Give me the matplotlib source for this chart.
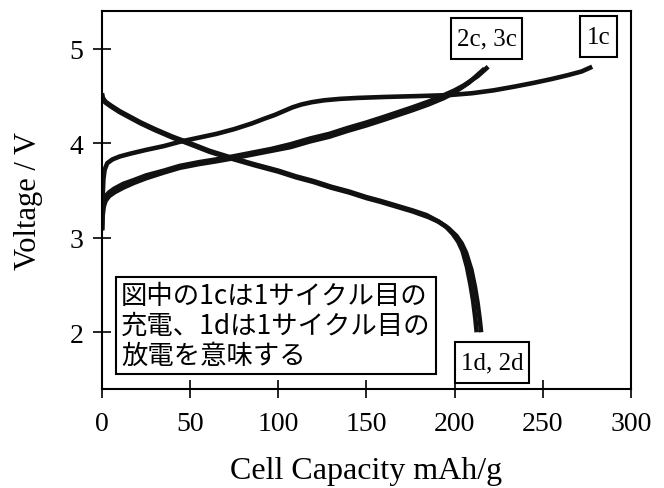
import matplotlib
matplotlib.use("Agg")
import matplotlib.pyplot as plt
from matplotlib.patches import Rectangle

# charge curves (capacity mAh/g, voltage V)
cap_1c = [0, 0.3, 0.8, 1.5, 3, 6, 10, 16, 25, 35, 45, 55, 65, 75, 85, 92, 98, 103, 108, 113, 119,
          126, 135, 145, 160, 180, 197, 210, 222, 234, 245, 255, 264, 272, 278]
v_1c = [3.08, 3.40, 3.62, 3.72, 3.79, 3.83, 3.86, 3.89, 3.93, 3.97, 4.02, 4.06, 4.10, 4.15, 4.21, 4.26,
        4.30, 4.34, 4.38, 4.41, 4.435, 4.455, 4.47, 4.48, 4.49, 4.50, 4.51, 4.53, 4.56, 4.60, 4.64,
        4.68, 4.72, 4.76, 4.81]

cap_2c = [0, 0.3, 1, 2, 4, 7, 12, 18, 25, 35, 44, 55, 65, 74, 85, 96, 107, 118, 129, 139, 150, 160,
          168, 176, 185, 194, 200, 205, 209, 213, 216, 219]
v_2c = [3.08, 3.28, 3.39, 3.44, 3.48, 3.52, 3.57, 3.61, 3.66, 3.71, 3.76, 3.80, 3.83, 3.86, 3.90, 3.94,
        3.99, 4.05, 4.10, 4.16, 4.22, 4.28, 4.33, 4.38, 4.44, 4.51, 4.56, 4.61, 4.66, 4.71, 4.76, 4.81]

cap_3c = [0, 0.3, 1, 2, 4, 7, 12, 18, 25, 35, 44, 55, 65, 74, 85, 96, 107, 118, 129, 139, 150, 160,
          168, 176, 185, 194, 199, 204, 208, 211, 214, 217]
v_3c = [3.08, 3.22, 3.33, 3.39, 3.44, 3.48, 3.53, 3.58, 3.63, 3.69, 3.74, 3.78, 3.81, 3.84, 3.88, 3.92,
        3.96, 4.02, 4.07, 4.13, 4.19, 4.25, 4.30, 4.35, 4.41, 4.48, 4.53, 4.59, 4.64, 4.69, 4.74, 4.79]

# discharge curves
cap_1d = [0, 0.5, 2, 5, 10, 15, 22, 30, 40, 50, 61, 73, 86, 100, 110, 120, 130, 140, 150, 158, 167,
          176, 184, 190, 195, 199, 202, 204.5, 207, 209, 210.5, 211.7, 212.5]
v_1d = [4.53, 4.48, 4.44, 4.40, 4.34, 4.29, 4.22, 4.15, 4.07, 4.00, 3.92, 3.85, 3.78, 3.71, 3.65, 3.60,
        3.54, 3.49, 3.43, 3.39, 3.34, 3.29, 3.24, 3.18, 3.12, 3.04, 2.96, 2.86, 2.69, 2.50, 2.33, 2.15, 2.00]

cap_2d = [0, 0.5, 2, 5, 10, 15, 22, 30, 40, 50, 61, 73, 86, 100, 110, 120, 130, 140, 150, 158, 167,
          176, 185, 191, 196.5, 201, 204, 206.5, 209.5, 211.5, 213, 214.2, 215]
v_2d = [4.50, 4.46, 4.43, 4.39, 4.33, 4.28, 4.21, 4.14, 4.06, 3.99, 3.91, 3.84, 3.77, 3.70, 3.64, 3.59,
        3.53, 3.48, 3.42, 3.38, 3.33, 3.28, 3.22, 3.17, 3.10, 3.02, 2.94, 2.84, 2.66, 2.48, 2.31, 2.14, 2.00]

x_ticks = [0, 50, 100, 150, 200, 250, 300]
y_ticks = [2, 3, 4, 5]

serif = "Liberation Serif"
jp = ["Noto Sans CJK JP", "DejaVu Sans"]

fig = plt.figure(figsize=(6.64, 4.89), dpi=100)
ax = fig.add_axes([0.1536, 0.2025, 0.7967, 0.773])

lc = "#111111"
for c, v in [(cap_1c, v_1c), (cap_2c, v_2c), (cap_3c, v_3c), (cap_1d, v_1d), (cap_2d, v_2d)]:
    ax.plot(c, v, color=lc, lw=3.3, solid_capstyle="butt", solid_joinstyle="round")

ax.set_xlim(0, 300)
ax.set_ylim(1.4, 5.4)
ax.set_xticks(x_ticks)
ax.set_yticks(y_ticks)
ax.tick_params(direction="inout", length=13, width=1.2, labelsize=20)
ax.tick_params(axis="x", pad=9)
ax.tick_params(axis="y", pad=7)
for lab in ax.get_xticklabels() + ax.get_yticklabels():
    lab.set_fontfamily(serif)
for s in ax.spines.values():
    s.set_linewidth(1.5)

ax.set_xlabel("Cell Capacity mAh/g", fontsize=23, family=serif, labelpad=15)
ax.set_ylabel("Voltage / V", fontsize=22, family=serif, labelpad=19)

# curve labels in boxes
labels = [("2c, 3c", 0.660, 0.873, 0.134), ("1c", 0.904, 0.878, 0.070), ("1d, 2d", 0.667, 0.016, 0.140)]
for txt, x0, y0, w in labels:
    ax.add_patch(Rectangle((x0, y0), w, 0.108, transform=ax.transAxes, fc="white", ec="black",
                           lw=1.5, zorder=5))
    ax.text(x0 + w / 2, y0 + 0.054, txt, transform=ax.transAxes, ha="center", va="center",
            fontsize=18, family=serif, zorder=6)

ax.text(0.036, 0.282, "図中の1cは1サイクル目の\n充電、1dは1サイクル目の\n放電を意味する",
        transform=ax.transAxes, ha="left", va="top", fontsize=19, family=jp,
        linespacing=1.12, zorder=6,
        bbox=dict(boxstyle="square,pad=0.2", fc="white", ec="black", lw=1.5))

fig.savefig("out.png", dpi=100)
